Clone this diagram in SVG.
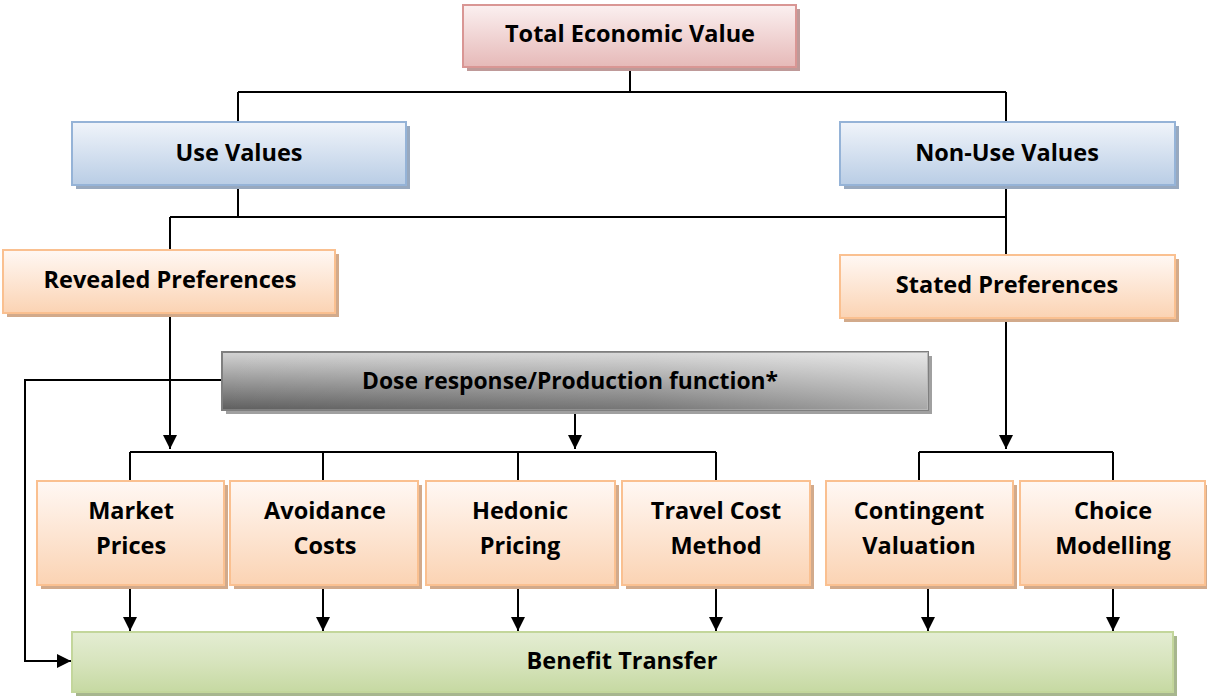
<svg xmlns="http://www.w3.org/2000/svg" width="1207" height="699" viewBox="0 0 1207 699">
<defs>
<linearGradient id="gPink" x1="0" y1="0" x2="0" y2="1"><stop offset="0" stop-color="#fbf0f0"/><stop offset="1" stop-color="#e6b9b8"/></linearGradient>
<linearGradient id="gBlue" x1="0" y1="0" x2="0" y2="1"><stop offset="0" stop-color="#f0f4fa"/><stop offset="1" stop-color="#b9cde5"/></linearGradient>
<linearGradient id="gOrange" x1="0" y1="0" x2="0" y2="1"><stop offset="0" stop-color="#fff8f4"/><stop offset="1" stop-color="#fbd3b3"/></linearGradient>
<linearGradient id="gGreen" x1="0" y1="0" x2="0" y2="1"><stop offset="0" stop-color="#e4edd3"/><stop offset="0.5" stop-color="#d7e4bd"/><stop offset="1" stop-color="#c6d9a2"/></linearGradient>
<linearGradient id="gGray" x1="0" y1="0" x2="0" y2="1"><stop offset="0" stop-color="#d4d4d4"/><stop offset="1" stop-color="#5e5e5e"/></linearGradient>
<linearGradient id="gGrayH" x1="0" y1="0" x2="1" y2="0"><stop offset="0" stop-color="#ffffff" stop-opacity="0"/><stop offset="0.6" stop-color="#ffffff" stop-opacity="0.15"/><stop offset="1" stop-color="#ffffff" stop-opacity="0.45"/></linearGradient>
<marker id="arr" viewBox="0 0 14 14" refX="14" refY="7" markerWidth="14" markerHeight="14" orient="auto" markerUnits="userSpaceOnUse"><path d="M0,0 L14,7 L0,14 z" fill="#000"/></marker>
<style>
.t{font-family:"Open Sans","Lato","Liberation Sans",sans-serif;font-weight:bold;font-size:23.5px;fill:#000;text-anchor:middle}
.c{fill:none;stroke:#000;stroke-width:2}
.a{fill:none;stroke:#000;stroke-width:2;marker-end:url(#arr)}
.pink{fill:url(#gPink);stroke:#d99694;stroke-width:2}
.blue{fill:url(#gBlue);stroke:#95b3d7;stroke-width:2}
.orange{fill:url(#gOrange);stroke:#fac090;stroke-width:2}
.green{fill:url(#gGreen);stroke:#c3d69b;stroke-width:2}
.gray{fill:url(#gGray);stroke:#7f7f7f;stroke-width:2}
.shP{fill:#bf9a99}
.shB{fill:#98a9bf}
.shO{fill:#d2aa8b}
.shG{fill:#a7b68e}
.shK{fill:#a0a0a0}
</style>
</defs>
<g id="connectors">
<path class="c" d="M630,67 V92 M238,92 H1006 M238,92 V122 M1006,92 V122"/>
<path class="c" d="M238,185 V217 M170,217 H1006 M170,217 V250 M1006,185 V255"/>
<path class="a" d="M170,313 V449"/>
<path class="a" d="M575,410 V449"/>
<path class="a" d="M1006,318 V449"/>
<path class="c" d="M130,452 H716 M130,452 V481 M323,452 V481 M518,452 V481 M716,452 V481"/>
<path class="c" d="M919,452 H1113 M919,452 V481 M1113,452 V481"/>
<path class="a" d="M222,380 H25 V661 H71"/>
<path class="a" d="M130,585 V631"/>
<path class="a" d="M323,585 V631"/>
<path class="a" d="M518,585 V631"/>
<path class="a" d="M716,585 V631"/>
<path class="a" d="M928,585 V631"/>
<path class="a" d="M1113,585 V631"/>
</g>
<g id="n-total"><rect class="shP" x="467" y="9" width="333" height="62"/><rect class="pink" x="463" y="5" width="333" height="62"/><text class="t" x="630" y="42">Total Economic Value</text></g>
<g id="n-use"><rect class="shB" x="76" y="126" width="334" height="63"/><rect class="blue" x="72" y="122" width="334" height="63"/><text class="t" x="239" y="161">Use Values</text></g>
<g id="n-nonuse"><rect class="shB" x="844" y="126" width="335" height="63"/><rect class="blue" x="840" y="122" width="335" height="63"/><text class="t" x="1007" y="161">Non-Use Values</text></g>
<g id="n-revealed"><rect class="shO" x="7" y="254" width="332" height="63"/><rect class="orange" x="3" y="250" width="332" height="63"/><text class="t" x="170" y="288">Revealed Preferences</text></g>
<g id="n-stated"><rect class="shO" x="844" y="259" width="335" height="63"/><rect class="orange" x="840" y="255" width="335" height="63"/><text class="t" x="1007" y="293">Stated Preferences</text></g>
<g id="n-dose"><rect class="shK" x="226" y="356" width="706" height="58"/><rect class="gray" x="222" y="352" width="706" height="58"/><rect x="222" y="352" width="706" height="58" fill="url(#gGrayH)"/><text class="t" x="570" y="389" textLength="416" lengthAdjust="spacingAndGlyphs">Dose response/Production function*</text></g>
<g id="n-market"><rect class="shO" x="41" y="485" width="187" height="104"/><rect class="orange" x="37" y="481" width="187" height="104"/><text class="t" x="131" y="519">Market</text><text class="t" x="131" y="554">Prices</text></g>
<g id="n-avoid"><rect class="shO" x="234" y="485" width="188" height="104"/><rect class="orange" x="230" y="481" width="188" height="104"/><text class="t" x="325" y="519">Avoidance</text><text class="t" x="325" y="554">Costs</text></g>
<g id="n-hedonic"><rect class="shO" x="430" y="485" width="189" height="104"/><rect class="orange" x="426" y="481" width="189" height="104"/><text class="t" x="520" y="519">Hedonic</text><text class="t" x="520" y="554">Pricing</text></g>
<g id="n-travel"><rect class="shO" x="626" y="485" width="188" height="104"/><rect class="orange" x="622" y="481" width="188" height="104"/><text class="t" x="716" y="519">Travel Cost</text><text class="t" x="716" y="554">Method</text></g>
<g id="n-contingent"><rect class="shO" x="830" y="485" width="187" height="104"/><rect class="orange" x="826" y="481" width="187" height="104"/><text class="t" x="919" y="519">Contingent</text><text class="t" x="919" y="554">Valuation</text></g>
<g id="n-choice"><rect class="shO" x="1024" y="485" width="186" height="104"/><rect class="orange" x="1020" y="481" width="185" height="104"/><text class="t" x="1113" y="519">Choice</text><text class="t" x="1113" y="554">Modelling</text></g>
<g id="n-benefit"><rect class="shG" x="76" y="636" width="1101" height="60"/><rect class="green" x="72" y="632" width="1101" height="60"/><text class="t" x="622" y="669">Benefit Transfer</text></g>
</svg>
